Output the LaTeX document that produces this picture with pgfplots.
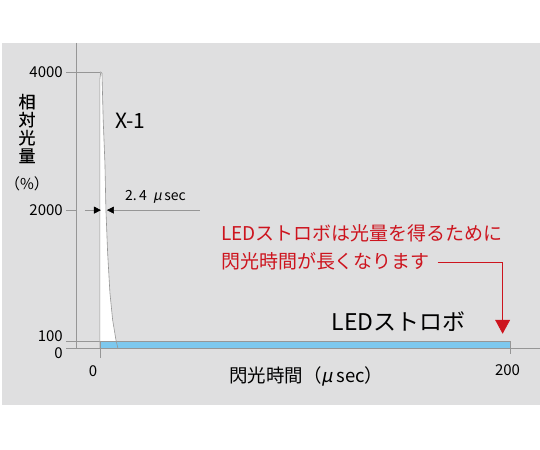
\documentclass[border=0pt]{standalone}
\usepackage{fontspec}
\setmainfont{Noto Sans CJK JP}
\usepackage{pgfplots}
\pgfplotsset{compat=1.18}
\usetikzlibrary{arrows.meta}

\definecolor{bggray}{RGB}{223,223,224}
\definecolor{axgray}{RGB}{150,150,150}
\definecolor{ledblue}{RGB}{125,200,238}
\definecolor{notered}{RGB}{205,20,30}

\newcommand{\mui}{{\addfontfeature{FakeSlant=0.2}μ}}

\begin{document}
\begin{tikzpicture}
\begin{axis}[
    width=540pt, height=450pt,
    scale only axis,
    xmin=-48.66, xmax=214.11,
    ymin=-1468.7, ymax=5042.8,
    hide axis,
    clip=false,
]
% background
\fill[white] (axis cs:-48.66,-1468.7) rectangle (axis cs:214.11,5042.8);
\fill[bggray] (axis cs:-47.7,-817.6) rectangle (axis cs:214.11,4420.5);

% axis lines and ticks
\draw[axgray, line width=0.8pt] (axis cs:-11.68,4420.5) -- (axis cs:-11.68,0);
\draw[axgray, line width=0.8pt] (axis cs:-16.5,0) -- (axis cs:214.11,0);
\draw[axgray, line width=0.8pt] (axis cs:-16.5,4000) -- (axis cs:0,4000);
\draw[axgray, line width=0.8pt] (axis cs:-16.5,2000) -- (axis cs:-11.68,2000);
\draw[axgray, line width=0.8pt] (axis cs:-16.5,100) -- (axis cs:0,100);
\draw[axgray, line width=0.8pt] (axis cs:0,94) -- (axis cs:0,-137);
\draw[axgray, line width=0.8pt] (axis cs:200,94) -- (axis cs:200,-80);

% X-1 pulse (fill)
\addplot[fill=white, draw=none] coordinates {
    (0,0) (0,3900) (0.4,4000) (1.0,3980) (1.6,3300) (2.43,2683) (2.92,2004)
    (3.75,1382) (4.87,803) (6.18,412) (7.79,123) (8.76,0)
} -- cycle;

% LED strobe
\addplot[fill=ledblue, draw=axgray, line width=0.4pt] coordinates {
    (0,0) (0,100) (200,100) (200,0)
} -- cycle;

% X-1 pulse (outline)
\addplot[draw=axgray, line width=0.6pt] coordinates {
    (0,0) (0,3900) (0.4,4000) (1.0,3980) (1.6,3300) (2.43,2683) (2.92,2004)
    (3.75,1382) (4.87,803) (6.18,412) (7.79,123) (8.76,0)
};

% tick labels
\node[anchor=east, font=\fontsize{15}{15}\selectfont, inner sep=0pt] at (axis cs:-18,4000) {4000};
\node[anchor=east, font=\fontsize{15}{15}\selectfont, inner sep=0pt] at (axis cs:-18,2000) {2000};
\node[anchor=east, font=\fontsize{15}{15}\selectfont, inner sep=0pt] at (axis cs:-18,174) {100};
\node[anchor=east, font=\fontsize{15}{15}\selectfont, inner sep=0pt] at (axis cs:-18,-65) {0};
\node[font=\fontsize{15}{15}\selectfont, inner sep=0pt] at (axis cs:-3.4,-333) {0};
\node[font=\fontsize{15}{15}\selectfont, inner sep=0pt] at (axis cs:198.5,-311) {200};

% axis titles
\node[align=center, font=\fontsize{17}{18}\selectfont\addfontfeature{FakeBold=0.4}, inner sep=0pt] at (axis cs:-35.5,3183) {相\\対\\光\\量};
\node[font=\fontsize{15}{15}\selectfont, inner sep=0pt] at (axis cs:-35.5,2380) {（\%）};
\node[font=\fontsize{18.5}{18.5}\selectfont, inner sep=0pt] at (axis cs:100.5,-412) {閃光時間（\mui\,sec）};

% annotations
\node[font=\fontsize{21}{21}\selectfont, inner sep=0pt] at (axis cs:14.84,3299) {X-1};
\draw[axgray, line width=0.6pt, -{Triangle[length=7pt,width=7pt,color=black]}]
    (axis cs:-7.3,2000) -- (axis cs:0.49,2000);
\draw[axgray, line width=0.6pt, -{Triangle[length=7pt,width=7pt,color=black]}]
    (axis cs:48.7,2000) -- (axis cs:3.4,2000);
\node[anchor=west, font=\fontsize{14}{14}\selectfont, inner sep=0pt] at (axis cs:12.17,2192) {2.\,4 \ \mui\,sec};

\node[anchor=west, text=notered, font=\fontsize{19}{19}\selectfont, inner sep=0pt] at (axis cs:58.9,1671) {LEDストロボは光量を得るために};
\node[anchor=west, text=notered, font=\fontsize{19}{19}\selectfont, inner sep=0pt] at (axis cs:58.9,1266) {閃光時間が長くなります};
\draw[notered, line width=0.7pt, -{Triangle[length=14pt,width=15pt]}]
    (axis cs:164.5,1237) -- (axis cs:196.1,1237) -- (axis cs:196.1,210);

\node[font=\fontsize{23}{23}\selectfont, inner sep=0pt] at (axis cs:145.5,383) {LEDストロボ};
\end{axis}
\end{tikzpicture}
\end{document}
